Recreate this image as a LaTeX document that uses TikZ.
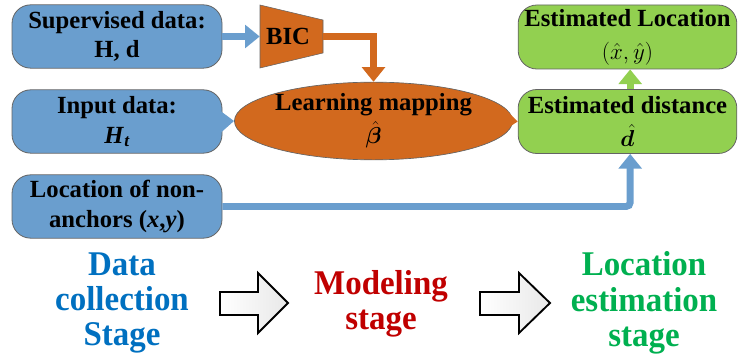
\documentclass[tikz,border=0pt]{standalone}
\usepackage{amsmath,bm}
\usepackage{fontspec}
\setmainfont{Liberation Serif}
\newfontfamily\condfont[FakeStretch=0.95]{Liberation Serif}
\usetikzlibrary{arrows.meta,shapes.geometric}
\definecolor{boxblue}{RGB}{106,158,206}
\definecolor{boxorange}{RGB}{210,105,30}
\definecolor{boxgreen}{RGB}{146,208,80}
\definecolor{txtblue}{RGB}{0,112,192}
\definecolor{txtred}{RGB}{192,0,0}
\definecolor{txtgreen}{RGB}{0,176,80}
\definecolor{edgegray}{RGB}{100,100,100}
\tikzset{
  boxfont/.style={font=\fontsize{18.5}{22}\selectfont\bfseries},
  rbox/.style={draw=edgegray, line width=0.6pt, rounded corners=14pt,
    minimum width=157.5pt, minimum height=47.5pt, align=center, inner sep=0pt, boxfont},
  gbox/.style={rbox, fill=boxgreen, minimum width=164pt, minimum height=48pt},
  thick arrow/.style={line width=5.2pt,
    -{Triangle[length=11pt,width=17pt]}},
  stagetxt/.style={align=center, font=\condfont\fontsize{26}{26.5}\selectfont\bfseries},
  blockarrow/.style={draw=black, line width=1.4pt, line join=miter,
    left color=white, right color=gray!18},
}
\begin{document}
\begin{tikzpicture}[x=0.75pt,y=-0.75pt]
\useasboundingbox (0,0) rectangle (738,363);
% left boxes
\node[rbox, fill=boxblue] (sup) at (117,36.5) {Supervised data:\\H, d};
\node[rbox, fill=boxblue] (inp) at (117,121.5) {Input data:\\\textit{H}\raisebox{-0.25ex}{\fontsize{13}{13}\selectfont\textit{t}}};
\node[rbox, fill=boxblue] (loc) at (117,206.5) {Location of non-\\anchors (\textit{x},\textit{y})};
% BIC trapezoid
\node[minimum width=47.25pt, minimum height=47.25pt, inner sep=0pt] (bic) at (291.5,36.5) {};
\fill[boxorange] (260,5) -- (323,20) -- (323,53) -- (260,68) -- cycle;
\draw[edgegray, line width=0.4pt] (260,5) -- (323,20) -- (323,53) -- (260,68) -- cycle;
\node[boxfont] (bictxt) at (288,36.5) {BIC};
% ellipse
\node[ellipse, draw=edgegray, line width=0.5pt, fill=boxorange, minimum width=190pt, minimum height=55.5pt,
  inner sep=0pt, align=center, boxfont] (ell) at (373.5,121)
  {Learning mapping\\[3pt]$\hat{\bm{\beta}}$};
% right boxes
\node[gbox] (estloc) at (627.5,37) {Estimated Location\\[3pt]\mdseries$\left(\hat{x},\hat{y}\right)$};
\node[gbox] (estd) at (627.5,121.5) {Estimated distance\\[3pt]$\hat{\bm{d}}$};
% connectors
\draw[thick arrow, boxblue] (sup.east) -- (bic.west);
\draw[thick arrow, boxorange] (bic.east) -| (ell.north);
\draw[thick arrow, boxblue] (inp.east) -- (ell.west);
\draw[thick arrow, boxorange] (ell.east) -- (estd.west);
\draw[thick arrow, boxgreen] ([xshift=2pt]estd.north) -- ([xshift=2pt]estloc.south);
\draw[thick arrow, boxblue, rounded corners=3pt] (loc.east) -| ([xshift=2pt]estd.south);
% stages
\node[stagetxt, text=txtblue] (s1) at (122,303) {Data\\collection\\Stage};
\node[stagetxt, text=txtred] (s2) at (381,304) {Modeling\\stage};
\node[stagetxt, text=txtgreen] (s3) at (644,303) {Location\\estimation\\stage};
\draw[blockarrow] (220,292) -- (258,292) -- (258,273) -- (288,303) -- (258,333) -- (258,315) -- (220,315) -- cycle;
\draw[blockarrow] (480,292) -- (519,292) -- (519,273) -- (550,303) -- (519,333) -- (519,315) -- (480,315) -- cycle;
\end{tikzpicture}
\end{document}
